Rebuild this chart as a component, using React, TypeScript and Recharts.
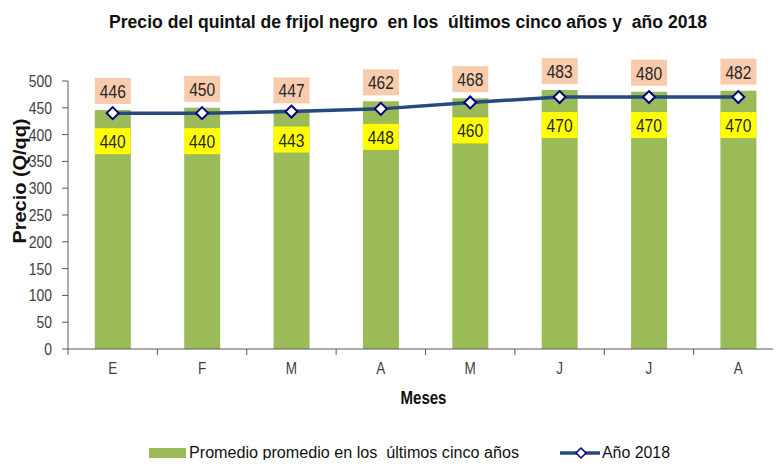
import React from 'react';
import { ComposedChart, Bar, Line, XAxis, YAxis, Legend, LabelList, Label } from 'recharts';

const months = ['E', 'F', 'M', 'A', 'M', 'J', 'J', 'A'];
const avgFiveYears = [446, 450, 447, 462, 468, 483, 480, 482];
const year2018 = [440, 440, 443, 448, 460, 470, 470, 470];
const yTicks = [0, 50, 100, 150, 200, 250, 300, 350, 400, 450, 500];

const data = months.map((m, i) => ({ key: `${m}-${i}`, month: m, avg: avgFiveYears[i], y2018: year2018[i] }));

const TITLE = 'Precio del quintal de frijol negro  en los  últimos cinco años y  año 2018';
const BAR_NAME = 'Promedio promedio en los  últimos cinco años';
const LINE_NAME = 'Año 2018';

const FONT = '"Liberation Sans", Arial, sans-serif';
const NARROW = 0.82; // Arial Narrow look-alike
const BAR_GREEN = '#9BBB59';
const LINE_BLUE = '#254A7E';
const AXIS = '#595959';

// text squeezed horizontally so Liberation Sans reads like Arial Narrow
const NText = ({ x, y, size, bold, anchor = 'middle', fill = '#262626', rotate = 0, length, children }: any) => (
  <g transform={`translate(${x},${y}) rotate(${rotate}) scale(${length ? 1 : NARROW},1)`}>
    <text
      x={0}
      y={0}
      textAnchor={anchor}
      fontSize={size}
      fontWeight={bold ? 'bold' : 'normal'}
      fontFamily={FONT}
      fill={fill}
      textLength={length}
      lengthAdjust={length ? 'spacingAndGlyphs' : undefined}
      style={{ whiteSpace: 'pre' }}
    >
      {children}
    </text>
  </g>
);

const Diamond = (props: any) => {
  const { cx, cy } = props;
  if (cx == null || cy == null) return null;
  const r = 6;
  return (
    <path
      d={`M${cx},${cy - r} L${cx + r},${cy} L${cx},${cy + r} L${cx - r},${cy} Z`}
      fill="#fff"
      stroke="#000080"
      strokeWidth={2}
    />
  );
};

const BarValue = (props: any) => {
  const { x, y, width, value } = props;
  const cx = x + width / 2;
  const cy = y - 19;
  return (
    <g>
      <rect x={cx - 18} y={cy - 13} width={36} height={26} fill="#F8CBAD" />
      <NText x={cx} y={cy + 7} size={19}>{value}</NText>
    </g>
  );
};

const LineValue = (props: any) => {
  const { x, y, value } = props;
  const cy = y + 28;
  return (
    <g>
      <rect x={x - 18} y={cy - 13} width={36} height={26} fill="#FFFF00" />
      <NText x={x} y={cy + 7} size={19}>{value}</NText>
    </g>
  );
};

// Excel style: tick marks between categories, label in the middle
const MonthTick = (props: any) => {
  const { x, y, payload, index } = props;
  const half = payload?.offset ?? 0;
  return (
    <g>
      <line x1={x - half} y1={y - 8} x2={x - half} y2={y - 2} stroke={AXIS} />
      <NText x={x} y={y + 17} size={16.5} fill="#404040">{months[index]}</NText>
    </g>
  );
};

const YTick = (props: any) => {
  const { x, y, payload } = props;
  return <NText x={x} y={y + 6} size={17} anchor="end" fill="#404040">{payload.value}</NText>;
};

const LegendContent = () => (
  <svg width={800} height={24} style={{ display: 'block' }}>
    <rect x={149} y={7} width={37} height={10} fill={BAR_GREEN} />
    <NText x={189} y={17} size={16} anchor="start" fill="#111" length={330}>{BAR_NAME}</NText>
    <line x1={560} y1={12} x2={600} y2={12} stroke={LINE_BLUE} strokeWidth={3.5} />
    <path d="M581,7 L586,12 L581,17 L576,12 Z" fill="#fff" stroke="#000080" strokeWidth={1.5} />
    <NText x={602} y={17} size={16} anchor="start" fill="#111" length={68}>{LINE_NAME}</NText>
  </svg>
);

export default function App() {
  return (
    <div style={{ margin: -8, width: 781, height: 468, overflow: 'hidden', position: 'relative', background: '#fff' }}>
      <svg width={781} height={40} style={{ position: 'absolute', top: 0, left: 0 }}>
        <NText x={109} y={28} size={18} bold anchor="start" fill="#111" length={598}>{TITLE}</NText>
      </svg>
      <ComposedChart width={800} height={468} data={data} margin={{ top: 81, right: 17, bottom: 0, left: 0 }} barCategoryGap="30%">
        <XAxis
          dataKey="key"
          height={95}
          axisLine={{ stroke: AXIS }}
          tickLine={false}
          tick={MonthTick}
          interval={0}
        >
          <Label
            content={(p: any) => (
              <NText x={p.viewBox.x + p.viewBox.width / 2 - 2} y={p.viewBox.y + 55} size={19} bold fill="#111" length={46}>Meses</NText>
            )}
          />
        </XAxis>
        <YAxis
          width={68}
          domain={[0, 500]}
          ticks={yTicks}
          interval={0}
          axisLine={{ stroke: AXIS }}
          tickLine={{ stroke: AXIS }}
          tickSize={6}
          tickMargin={10}
          tick={YTick}
        >
          <Label
            content={() => (
              <NText x={26} y={181} rotate={-90} size={17.5} bold fill="#111" length={125}>Precio (Q/qq)</NText>
            )}
          />
        </YAxis>
        <Legend
          verticalAlign="bottom"
          content={LegendContent}
          wrapperStyle={{ position: 'absolute', top: 441, left: 0, width: 800, height: 24 }}
        />
        <Bar dataKey="avg" name={BAR_NAME} fill={BAR_GREEN} isAnimationActive={false}>
          <LabelList dataKey="avg" content={BarValue} />
        </Bar>
        <Line
          dataKey="y2018"
          name={LINE_NAME}
          stroke={LINE_BLUE}
          strokeWidth={3.5}
          dot={<Diamond />}
          activeDot={false}
          isAnimationActive={false}
        >
          <LabelList dataKey="y2018" content={LineValue} />
        </Line>
      </ComposedChart>
    </div>
  );
}
